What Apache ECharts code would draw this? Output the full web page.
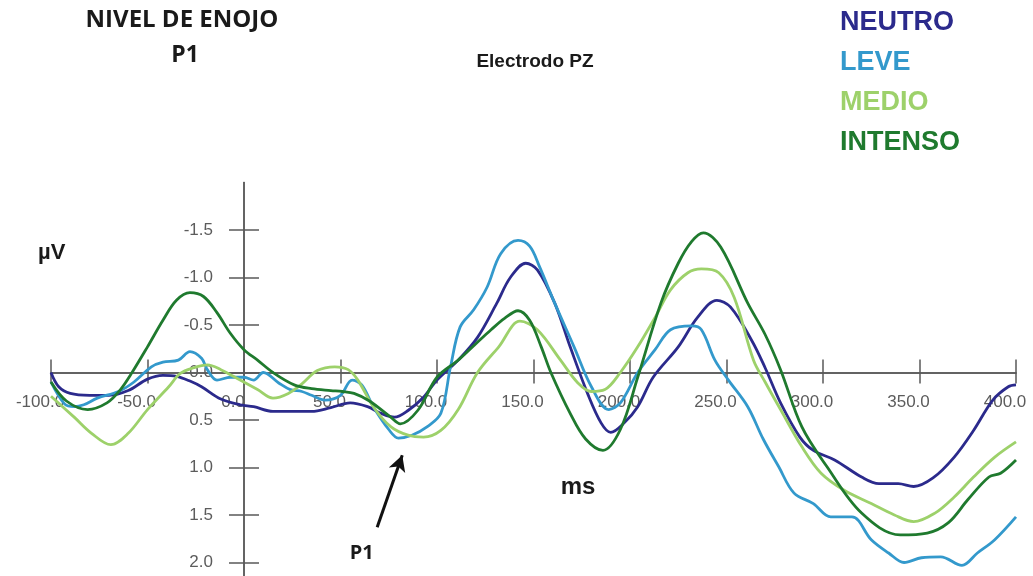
<!DOCTYPE html>
<html>
<head>
<meta charset="utf-8">
<title>Nivel de enojo P1</title>
<script src="https://cdn.jsdelivr.net/npm/echarts@6/dist/echarts.min.js"></script>
<style>
  html, body { margin: 0; padding: 0; background: #fff; }
  #chart { width: 1033px; height: 576px; }
</style>
</head>
<body>
<div id="chart"></div>
<script>
// ticks (ms / µV)
const xTicks = [-100, -50, 0, 50, 100, 150, 200, 250, 300, 350, 400]
const yTicks = [-1.5, -1.0, -0.5, 0, 0.5, 1.0, 1.5, 2.0]

// [ms, µV] (negative up)
const neutro = [
  [-100, 0.0], [-96, 0.15], [-90, 0.22], [-80, 0.24], [-70, 0.24], [-60, 0.19], [-50, 0.07],
  [-42, 0.03], [-35, 0.04], [-28, 0.09], [-22, 0.15], [-12, 0.28], [-2, 0.34], [5, 0.36],
  [15, 0.41], [25, 0.41], [35, 0.41], [45, 0.37], [55, 0.32], [64, 0.36], [71, 0.43],
  [78, 0.47], [85, 0.4], [93, 0.26], [100, 0.08], [111, -0.13], [121, -0.37], [131, -0.73],
  [138, -1.0], [146, -1.15], [152, -1.08], [161, -0.73], [169, -0.27], [178, 0.22],
  [185, 0.53], [190, 0.63], [197, 0.53], [204, 0.36], [212, 0.05], [225, -0.27],
  [235, -0.58], [245, -0.76], [252, -0.69], [263, -0.34], [270, -0.05], [278, 0.32],
  [288, 0.68], [295, 0.82], [306, 0.92], [320, 1.1], [329, 1.17], [339, 1.17], [347, 1.2],
  [357, 1.11], [368, 0.89], [378, 0.61], [388, 0.29], [396, 0.15], [400, 0.13],
]
const leve = [
  [-100, 0.1], [-93, 0.33], [-88, 0.36], [-83, 0.34], [-76, 0.27], [-65, 0.2], [-57, 0.1],
  [-48, -0.06], [-42, -0.11], [-34, -0.13], [-28, -0.22], [-22, -0.15], [-19, -0.03],
  [-14, 0.08], [-7, 0.05], [0, 0.05], [5, 0.08], [10, 0.0], [18, 0.11], [24, 0.18],
  [30, 0.2], [35, 0.24], [42, 0.29], [50, 0.24], [56, 0.08], [61, 0.13], [67, 0.36],
  [75, 0.6], [80, 0.69], [87, 0.66], [95, 0.57], [102, 0.43], [107, -0.06], [112, -0.48],
  [119, -0.66], [126, -0.9], [133, -1.25], [142, -1.39], [148, -1.33], [153, -1.12],
  [161, -0.73], [171, -0.27], [180, 0.15], [189, 0.39], [195, 0.32], [204, 0.0],
  [213, -0.24], [221, -0.45], [232, -0.49], [237, -0.45], [244, -0.13], [251, 0.08],
  [261, 0.36], [269, 0.7], [277, 0.99], [285, 1.27], [295, 1.38], [304, 1.52], [315, 1.52],
  [325, 1.76], [334, 1.9], [342, 2.0], [351, 1.95], [361, 1.94], [372, 2.03], [380, 1.9],
  [389, 1.76], [400, 1.52],
]
const medio = [
  [-100, 0.25], [-88, 0.47], [-79, 0.64], [-69, 0.76], [-60, 0.64], [-50, 0.39], [-39, 0.15],
  [-33, 0.01], [-26, -0.05], [-19, -0.08], [-12, -0.03], [-2, 0.08], [7, 0.18], [15, 0.27],
  [23, 0.22], [30, 0.12], [38, -0.02], [47, -0.06], [54, -0.03], [59, 0.08], [67, 0.36],
  [76, 0.57], [85, 0.66], [93, 0.68], [102, 0.61], [111, 0.39], [121, 0.0], [132, -0.27],
  [143, -0.54], [152, -0.45], [164, -0.13], [173, 0.11], [180, 0.2], [187, 0.18], [195, 0.0],
  [204, -0.27], [213, -0.58], [221, -0.87], [230, -1.05], [237, -1.09], [246, -1.05],
  [254, -0.79], [264, -0.13], [270, 0.1], [278, 0.39], [289, 0.78], [299, 1.06],
  [311, 1.24], [325, 1.38], [337, 1.5], [347, 1.57], [358, 1.48], [368, 1.31], [378, 1.1],
  [389, 0.89], [400, 0.73],
]
const intenso = [
  [-100, 0.1], [-92, 0.3], [-81, 0.39], [-71, 0.32], [-64, 0.18], [-58, 0.0], [-50, -0.27],
  [-42, -0.55], [-35, -0.76], [-28, -0.84], [-21, -0.8], [-14, -0.63], [-7, -0.41],
  [0, -0.24], [7, -0.13], [15, 0.0], [26, 0.13], [35, 0.17], [45, 0.19], [51, 0.2],
  [57, 0.22], [65, 0.3], [76, 0.47], [81, 0.54], [90, 0.4], [100, 0.05], [111, -0.13],
  [120, -0.3], [128, -0.45], [135, -0.57], [142, -0.65], [148, -0.55], [154, -0.27],
  [159, 0.0], [169, 0.43], [177, 0.7], [186, 0.82], [195, 0.6], [204, 0.05], [216, -0.73],
  [225, -1.15], [232, -1.38], [238, -1.47], [247, -1.32], [261, -0.73], [270, -0.4],
  [278, -0.03], [289, 0.57], [302, 0.99], [320, 1.48], [340, 1.71], [354, 1.69],
  [365, 1.58], [375, 1.34], [386, 1.1], [392, 1.06], [400, 0.92],
]

// P1 arrow (tail -> head) and its label
const p1Arrow = [[69, 1.63], [82, 0.87]]
const p1Label = [61, 1.9]

const names = ['NEUTRO', 'LEVE', 'MEDIO', 'INTENSO']
const colors = ['#2b2a8c', '#3399cc', '#9dd16a', '#1f7a2e']
const dataSets = [neutro, leve, medio, intenso]

const axisColor = '#5a5a5a'
const labelFont = { fontFamily: 'Liberation Sans', fontSize: 17, color: '#5c5c5c' }

// grid box; axes cross at 0 ms / 0 µV, so shift them with offset
const gridLeft = 51
const gridRight = 17
const gridTop = 182.5
const gridBottom = -5.5
const xMin = -100, xMax = 400, yMin = -2, yMax = 2.2
const plotW = 1033 - gridLeft - gridRight
const plotH = 576 - gridTop - gridBottom
const yAxisOffset = -((0 - xMin) / (xMax - xMin)) * plotW
const xAxisOffset = -((yMax - 0) / (yMax - yMin)) * plotH

const chart = echarts.init(document.getElementById('chart'))

const series = dataSets.map((d, i) => ({
  name: names[i],
  type: 'line',
  data: d,
  xAxisIndex: 0,
  yAxisIndex: 0,
  smooth: 0.35,
  showSymbol: false,
  lineStyle: { color: colors[i], width: 2.8 },
  itemStyle: { color: colors[i] },
  z: 3,
}))

// arrow + "P1"
series.push({
  name: 'p1',
  type: 'line',
  data: [],
  xAxisIndex: 0,
  yAxisIndex: 0,
  markLine: {
    silent: true,
    animation: false,
    symbol: ['none', 'arrow'],
    symbolSize: [13, 16],
    lineStyle: { color: '#111', width: 3, type: 'solid' },
    label: { show: false },
    data: [[{ coord: p1Arrow[0] }, { coord: p1Arrow[1] }]],
  },
  markPoint: {
    silent: true,
    symbol: 'circle',
    symbolSize: 0,
    label: {
      show: true,
      position: 'inside',
      formatter: 'P1',
      fontFamily: 'Open Sans',
      fontWeight: 'bold',
      fontSize: 20,
      color: '#1a1a1a',
    },
    data: [{ coord: p1Label }],
  },
})

function xAxisDef(inside) {
  return {
    type: 'value',
    min: xMin,
    max: xMax,
    position: 'bottom',
    offset: xAxisOffset,
    axisLine: { show: true, onZero: false, lineStyle: { color: axisColor, width: 1.5 } },
    axisTick: {
      show: true,
      customValues: xTicks,
      inside: inside,
      length: inside ? 13 : 11,
      lineStyle: { color: axisColor, width: 1.5 },
    },
    axisLabel: {
      show: !inside,
      customValues: xTicks,
      formatter: (v) => v.toFixed(1),
      margin: 21,
      padding: [0, 22, 0, 0],
      ...labelFont,
    },
    splitLine: { show: false },
  }
}

function yAxisDef(inside) {
  return {
    type: 'value',
    inverse: true,
    min: yMin,
    max: yMax,
    position: 'left',
    offset: yAxisOffset,
    axisLine: { show: true, onZero: false, lineStyle: { color: axisColor, width: 1.5 } },
    axisTick: {
      show: true,
      customValues: yTicks,
      inside: inside,
      length: 15,
      lineStyle: { color: axisColor, width: 1.5 },
    },
    axisLabel: {
      show: !inside,
      customValues: yTicks,
      formatter: (v) => v.toFixed(1),
      margin: 31,
      padding: [0, 0, 6, 0],
      ...labelFont,
    },
    splitLine: { show: false },
  }
}

const option = {
  animation: false,
  backgroundColor: '#fff',
  grid: {
    left: gridLeft,
    right: gridRight,
    top: gridTop,
    bottom: gridBottom,
    containLabel: false,
    outerBoundsMode: 'none',
  },
  legend: {
    orient: 'vertical',
    left: 830,
    top: 4,
    itemGap: 13,
    itemWidth: 0,
    itemHeight: 0,
    icon: 'rect',
    selectedMode: false,
    textStyle: { fontFamily: 'Liberation Sans', fontSize: 27, fontWeight: 'bold' },
    data: names.map((n, i) => ({ name: n, textStyle: { color: colors[i] } })),
  },
  xAxis: [xAxisDef(false), xAxisDef(true)],
  yAxis: [yAxisDef(false), yAxisDef(true)],
  graphic: [
    {
      type: 'text',
      style: {
        text: 'NIVEL DE ENOJO', x: 182, y: 20, align: 'center', verticalAlign: 'middle',
        font: 'bold 24px "Open Sans"', fill: '#1a1a1a',
      },
    },
    {
      type: 'text',
      style: {
        text: 'P1', x: 185, y: 55, align: 'center', verticalAlign: 'middle',
        font: 'bold 23px "Open Sans"', fill: '#1a1a1a',
      },
    },
    {
      type: 'text',
      style: {
        text: 'Electrodo PZ', x: 535, y: 62, align: 'center', verticalAlign: 'middle',
        font: 'bold 19px "Liberation Sans"', fill: '#1a1a1a',
      },
    },
    {
      type: 'text',
      style: {
        text: 'µV', x: 38, y: 253, align: 'left', verticalAlign: 'middle',
        font: 'bold 22px "Liberation Sans"', fill: '#1a1a1a',
      },
    },
    {
      type: 'text',
      style: {
        text: 'ms', x: 578, y: 487, align: 'center', verticalAlign: 'middle',
        font: 'bold 24px "Liberation Sans"', fill: '#1a1a1a',
      },
    },
  ],
  series: series,
}

chart.setOption(option)
</script>
</body>
</html>
